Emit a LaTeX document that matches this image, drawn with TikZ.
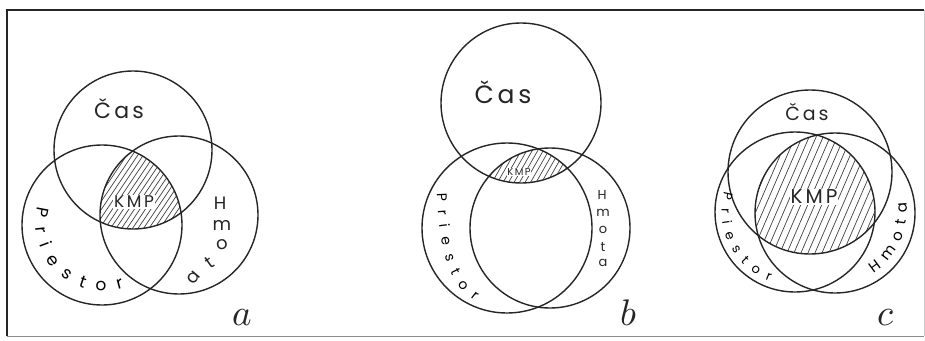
\documentclass[tikz,border=0pt]{standalone}
\usepackage{fontspec}
\newfontfamily\hand{Poppins}[LetterSpace=15]
\newfontfamily\handplain{Poppins}
\usetikzlibrary{decorations.text}
\begin{document}
\begin{tikzpicture}[x=1pt,y=-1pt,
  ring/.style={line width=1.4pt, draw=black!85},
  hatch/.style={line width=0.7pt, draw=black!75},
  lbl/.style={inner sep=0pt, text=black!85},
  tag/.style={inner sep=0pt, anchor=base, scale=3.7, text=black!85},
  curved/.style={decorate, decoration={text along path, text align=fit to path, raise=#1}}]
\useasboundingbox (0,0) rectangle (925,340);
\fill[white] (0,0) rectangle (925,340);
% frame
\coordinate (tl) at (7,10); \coordinate (tr) at (924,10);
\coordinate (bl) at (7,336); \coordinate (br) at (924,336);
\draw[line width=1.6pt, black!85] (tr) -- (tl) -- (bl);
\draw[line width=1pt, black!45] (bl) -- (br);
\draw[line width=0.8pt, black!20] (tr) -- (br);

% ---------------- diagram a ----------------
\coordinate (ca) at (133,150);
\coordinate (pa) at (102,225);
\coordinate (ha) at (179,215);
\begin{scope}
  \clip (ca) circle[radius=79];
  \clip (pa) circle[radius=80];
  \clip (ha) circle[radius=79];
  \foreach \k in {-150,-144.5,...,150}
    \draw[hatch] ({140+\k-70},{195+104}) -- ({140+\k+70},{195-104});
\end{scope}
\draw[ring] (ca) circle[radius=79];
\draw[ring] (pa) circle[radius=80];
\draw[ring] (ha) circle[radius=79];
\node[lbl, font=\hand\fontsize{22}{22}\selectfont] (casA) at (119,109) {Čas};
\node[lbl, fill=white, inner sep=1pt, font=\hand\fontsize{17}{17}\selectfont] (kmpA) at (134,202) {KMP};
\path[curved=-4.5pt, decoration={text={|\handplain\fontsize{17}{17}\selectfont|Priestor}}]
  (42.5,207) arc[start angle=195, end angle=72, radius=63];
\begin{scope}[every node/.style={lbl, font=\handplain\fontsize{18}{18}\selectfont}]
  \node (hA1) at (220,203) {H};
  \node (hA2) at (222,225) {m};
  \node[rotate=10] (hA3) at (222,245) {o};
  \node[rotate=35] (hA4) at (210,263) {t};
  \node[rotate=50] (hA5) at (194,278) {a};
\end{scope}
\node[tag] (la) at (242,325) {$a$};

% ---------------- diagram b ----------------
\coordinate (cb) at (521,103);
\coordinate (pb) at (507,228);
\coordinate (hb) at (550,228);
\begin{scope}
  \clip (cb) circle[radius=80];
  \clip (pb) circle[radius=85];
  \clip (hb) circle[radius=80];
  \foreach \k in {-100,-94.5,...,100}
    \draw[hatch] ({525+\k-40},{165+70}) -- ({525+\k+40},{165-70});
\end{scope}
\draw[ring] (cb) circle[radius=80];
\draw[ring] (pb) circle[radius=85];
\draw[ring] (hb) circle[radius=80];
\node[lbl, font=\hand\fontsize{25}{25}\selectfont] (casB) at (503,92) {Čas};
\node[lbl, fill=white, inner sep=0.6pt, font=\hand\fontsize{10}{10}\selectfont] (kmpB) at (519,172) {KMP};
\path[curved=-4pt, decoration={text={|\handplain\fontsize{14}{14}\selectfont|Priestor}}]
  (441,193) .. controls (443,250) and (452,280) .. (477,298);
\begin{scope}[every node/.style={lbl, font=\handplain\fontsize{13}{13}\selectfont}]
  \node (hB1) at (602,195) {H};
  \node (hB2) at (603,213) {m};
  \node (hB3) at (603,230) {o};
  \node (hB4) at (603,247) {t};
  \node (hB5) at (603,263) {a};
\end{scope}
\node[tag] (lb) at (628,325) {$b$};

% ---------------- diagram c ----------------
\coordinate (cc) at (810,172);
\coordinate (pc) at (795,212);
\coordinate (hc) at (835,213);
\begin{scope}
  \clip (cc) circle[radius=82];
  \clip (pc) circle[radius=80];
  \clip (hc) circle[radius=80];
  \foreach \k in {-150,-143,...,150}
    \draw[hatch] ({815+\k-45},{195+104}) -- ({815+\k+45},{195-104});
\end{scope}
\draw[ring] (cc) circle[radius=82];
\draw[ring] (pc) circle[radius=80];
\draw[ring] (hc) circle[radius=80];
\node[lbl, font=\hand\fontsize{19}{19}\selectfont] (casC) at (807,112) {Čas};
\node[lbl, fill=white, inner sep=1pt, font=\hand\fontsize{20}{20}\selectfont] (kmpC) at (814,197) {KMP};
\path[curved=-3.5pt, decoration={text={|\handplain\fontsize{13}{13}\selectfont|Priestor}}]
  (727.7,192.7) arc[start angle=196, end angle=110, radius=70];
\path[curved=-4pt, decoration={text={|\handplain\fontsize{15}{15}\selectfont|Hmota}}]
  (871,270) arc[start angle=58, end angle=-8, radius=68];
\node[tag] (lc) at (885,325) {$c$};
\end{tikzpicture}
\end{document}
